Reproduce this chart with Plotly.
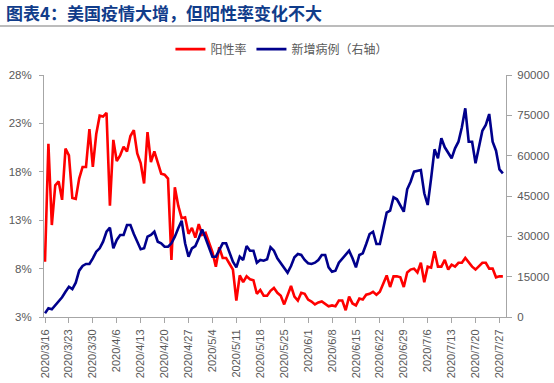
import pandas as pd
import plotly.graph_objects as go

# ---- data ----
start_date = "2020-03-16"
n_days = 135
dates = pd.date_range(start_date, periods=n_days, freq="D")

positive_rate = [  # 阳性率, %
    8.7, 20.9, 12.5, 16.6, 17.0, 15.1, 20.4, 19.7, 15.3, 15.2,
    17.3, 18.5, 18.5, 22.4, 18.5, 21.9, 23.8, 23.7, 24.1, 14.5,
    21.3, 19.1, 19.7, 20.6, 20.1, 21.7, 22.3, 19.9, 18.9, 16.8,
    22.1, 19.0, 20.1, 19.0, 17.8, 17.7, 17.3, 8.9, 16.4, 14.5,
    13.2, 13.3, 11.6, 12.2, 11.2, 12.6,
    11.5, 11.7, 10.6, 9.7, 8.2, 10.2, 9.1, 9.1, 8.5, 7.9,
    4.7, 7.3, 6.6, 7.2, 6.9, 6.8, 5.4, 5.8, 5.2, 5.2,
    5.7, 6.0, 5.5, 5.2, 4.3, 5.3, 6.2, 5.1, 4.7, 5.5,
    5.4, 4.8, 4.6, 4.3, 4.5, 4.6, 4.3, 4.1, 4.2, 4.1,
    4.7, 4.7, 3.7, 5.1,
    4.4, 4.2, 4.9, 4.8, 5.3, 5.4, 5.6, 5.3, 5.6, 6.5,
    7.3, 6.1, 7.2, 7.2, 7.1, 6.1, 7.6, 7.9, 8.0, 7.6,
    8.6, 6.6, 8.2, 8.1, 9.8, 8.2, 8.2, 8.9, 7.9, 8.4,
    8.2, 8.6, 8.6, 9.1, 8.6, 8.2, 7.9, 8.2, 8.6, 8.6,
    8.0, 8.0, 7.1, 7.2, 7.2,
]

new_cases = [  # 新增病例（右轴）
    1380, 3240, 2860, 4460, 6060, 7330, 9410, 11270, 10410, 12760,
    17220, 18970, 19710, 19710, 21830, 24290, 25550, 28000, 31720, 33210,
    25550, 28640, 30500, 30500, 34210, 34210, 30870, 28000, 25180, 25550,
    29860, 30500, 31720, 28000, 27410, 26140, 26140, 27410, 29860, 32990,
    35810, 27410, 22420, 25550, 26400, 29270,
    32600, 29270, 25550, 22420, 22420, 25180, 27410, 27410, 24290, 20570,
    18480, 22420, 21200, 26400, 24660, 24660, 20190, 21200, 20940, 21460,
    25920, 24660, 21830, 19970, 18480, 16480, 18970, 22200, 23430, 23060,
    21200, 19970, 19710, 20190, 21200, 23060, 23060, 18480, 16850, 17220,
    20190, 21830, 23060, 24660,
    21830, 18480, 23060, 23690, 27150, 30870, 31720, 27150, 27150, 32620,
    38790, 39530, 44520, 43770, 41650, 39160, 47490, 50320, 54040, 54410,
    54670, 46000, 41650, 51580, 62370, 59020, 66460, 63110, 60880, 59020,
    62740, 65190, 70550, 77620, 65190, 65190, 57160, 63590, 69280, 71400,
    75490, 65190, 61850, 54930, 53440,
]

left_ticks = [3, 8, 13, 18, 23, 28]
left_tick_labels = ["3%", "8%", "13%", "18%", "23%", "28%"]
right_ticks = [0, 15000, 30000, 45000, 60000, 75000, 90000]
right_tick_labels = ["0", "15000", "30000", "45000", "60000", "75000", "90000"]

title_text = "图表4：美国疫情大增，但阳性率变化不大"
name_rate = "阳性率"
name_cases = "新增病例（右轴）"

# ---- figure ----
W, H = 554, 383
ML, MR, MT, MB = 44, 48, 75, 66

axis_grey = "#A6A6A6"
text_grey = "#595959"
num_font = "Liberation Sans, Arial, sans-serif"
cjk_font = "Noto Sans CJK SC, sans-serif"

fig = go.Figure()
fig.add_trace(go.Scatter(
    x=dates, y=positive_rate, name=name_rate, mode="lines",
    line=dict(color="#FF0000", width=2.6), yaxis="y",
))
fig.add_trace(go.Scatter(
    x=dates, y=new_cases, name=name_cases, mode="lines",
    line=dict(color="#00008C", width=2.6), yaxis="y2",
))

x0 = pd.Timestamp(start_date) - pd.Timedelta(hours=7)
x1 = pd.Timestamp(start_date) + pd.Timedelta(days=134, hours=22)

fig.update_layout(
    width=W, height=H,
    margin=dict(l=ML, r=MR, t=MT, b=MB, pad=0),
    paper_bgcolor="white", plot_bgcolor="white",
    font=dict(family=num_font, size=11, color=text_grey),
    showlegend=True,
    legend=dict(
        orientation="h", x=0.515, xanchor="center", y=1.107, yanchor="middle",
        font=dict(family=cjk_font, size=12, color=text_grey),
        bgcolor="rgba(0,0,0,0)", itemwidth=30,
    ),
    xaxis=dict(
        type="date", range=[x0, x1], automargin=False,
        tick0=start_date, dtick=7 * 86400000,
        tickformat="%Y/%-m/%-d", tickangle=-90,
        showline=True, linecolor=axis_grey, linewidth=1,
        ticks="outside", ticklen=5, tickcolor=axis_grey,
        ticklabelstandoff=2,
        showgrid=False, zeroline=False,
        tickfont=dict(family=num_font, size=11, color=text_grey),
    ),
    yaxis=dict(
        range=[3, 28], tickmode="array", automargin=False,
        tickvals=left_ticks, ticktext=left_tick_labels,
        showline=True, linecolor=axis_grey, linewidth=1,
        ticks="outside", ticklen=4, tickcolor=axis_grey,
        ticklabelstandoff=5,
        showgrid=False, zeroline=False,
        tickfont=dict(family=num_font, size=11.5, color=text_grey),
    ),
    yaxis2=dict(
        range=[0, 90000], tickmode="array", automargin=False,
        tickvals=right_ticks, ticktext=right_tick_labels,
        overlaying="y", side="right",
        showline=True, linecolor=axis_grey, linewidth=1,
        ticks="outside", ticklen=5, tickcolor=axis_grey,
        ticklabelstandoff=3,
        showgrid=False, zeroline=False,
        tickfont=dict(family=num_font, size=11.5, color=text_grey),
    ),
)

# title and underline (positions in pixels converted to paper coords)
pw = W - ML - MR
ph = H - MT - MB

def px_x(px):
    return (px - ML) / pw

def px_y(py):
    return (H - MB - py) / ph

fig.add_annotation(
    text="<b>" + title_text + "</b>", xref="paper", yref="paper",
    x=px_x(4), y=px_y(13), xanchor="left", yanchor="middle", showarrow=False,
    font=dict(family=cjk_font, size=17, color="#103C8A"),
)
fig.add_shape(
    type="line", xref="paper", yref="paper",
    x0=px_x(0), x1=px_x(W), y0=px_y(26), y1=px_y(26),
    line=dict(color="#A6A6A6", width=1.5),
)

fig.write_html(
    "out.html",
    config={"displayModeBar": False},
    post_script="document.body.style.margin='0';document.body.style.overflow='hidden';",
)
